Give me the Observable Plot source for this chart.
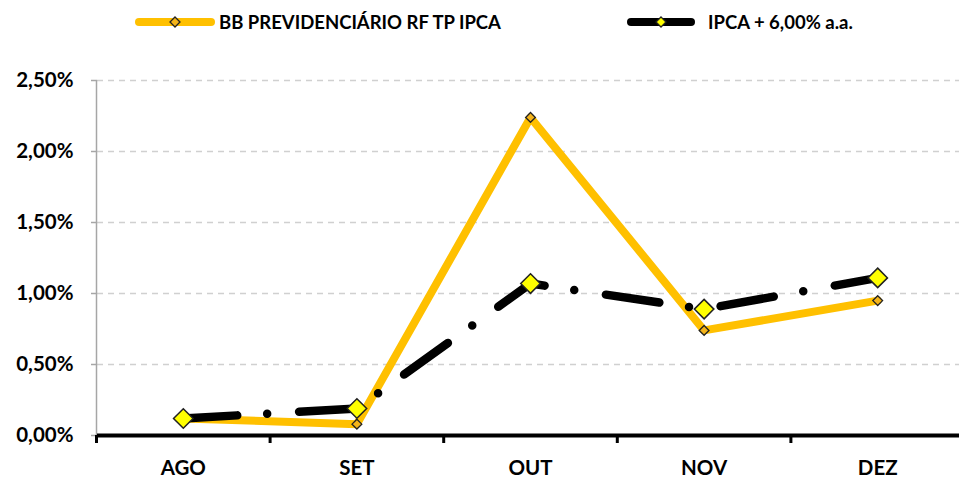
<!DOCTYPE html>
<html><head><meta charset="utf-8">
<script src="https://cdn.jsdelivr.net/npm/d3@7"></script>
<script src="https://cdn.jsdelivr.net/npm/@observablehq/plot@0.6"></script>
<style>
body{margin:0;background:#fff;font-family:Lato,"Open Sans",sans-serif;}
#legend{position:relative;height:40px;width:959px;}
.item{position:absolute;top:0;height:44px;display:flex;align-items:center;font-weight:bold;font-size:18.5px;color:#000;white-space:nowrap;}
</style></head><body>
<div id="legend"></div><div id="chart"></div>
<script>
const months = ["AGO","SET","OUT","NOV","DEZ"];
const bbValues = [0.12, 0.08, 2.24, 0.74, 0.95];
const ipcaValues = [0.12, 0.19, 1.07, 0.89, 1.11];
const seriesNames = ["BB PREVIDENCIÁRIO RF TP IPCA", "IPCA + 6,00% a.a."];
const yTicks = [0, 0.5, 1, 1.5, 2, 2.5];

const bb = months.map((m, i) => ({i, m, v: bbValues[i]}));
const ipca = months.map((m, i) => ({i, m, v: ipcaValues[i]}));
const bounds = d3.range(months.length + 1).map(i => i - 0.5);
const fmt = d => d.toFixed(2).replace(".", ",") + "%";

// legend
const legend = document.getElementById("legend");
const legendItems = [
  {name: seriesNames[0], left: 134, len: 82, gap: 3, color: "#FFC000", mfill: "#F4B41A"},
  {name: seriesNames[1], left: 626, len: 70, gap: 12, color: "#000", mfill: "#FFFF00"}
];
legendItems.forEach(it => {
  const d = document.createElement("div");
  d.className = "item";
  d.style.left = it.left + "px";
  const w = it.len;
  d.innerHTML = `<svg width="${w}" height="20" style="margin-right:${it.gap}px"><line x1="5" x2="${w-5}" y1="10" y2="10" stroke="${it.color}" stroke-width="8" stroke-linecap="round"/><path d="M${w/2} 5 L${w/2+5} 10 L${w/2} 15 L${w/2-5} 10 Z" fill="${it.mfill}" stroke="#222" stroke-width="1.3"/></svg><span>${it.name}</span>`;
  legend.appendChild(d);
});

const chart = Plot.plot({
  width: 959, height: 440,
  marginTop: 40, marginBottom: 45, marginLeft: 97, marginRight: 0,
  x: {type: "linear", domain: [-0.5, 4.5], range: [96, 964]},
  y: {domain: [0, 2.5]},
  style: {fontFamily: "Lato, 'Open Sans', sans-serif", fontWeight: "bold", fontSize: "20.5px", color: "#000", background: "#fff"},
  marks: [
    Plot.gridY(yTicks.filter(d => d > 0), {stroke: "#d0d0d0", strokeOpacity: 1, strokeDasharray: "6 5", strokeWidth: 1.3}),
    Plot.axisY({ticks: yTicks, tickFormat: fmt, tickSize: 6, tickPadding: 18, stroke: "#a6a6a6", strokeWidth: 1.5, label: null}),
    Plot.ruleX([-0.5], {stroke: "#a6a6a6", strokeWidth: 1.5}),
    Plot.ruleY([0], {stroke: "#000", strokeWidth: 4}),
    Plot.axisX({ticks: bounds, tickSize: 8, tickFormat: () => "", strokeWidth: 3, label: null}),
    Plot.axisX({ticks: d3.range(months.length), tickSize: 0, tickPadding: 25, tickFormat: i => months[i], label: null}),
    Plot.line(bb, {x: "i", y: "v", stroke: "#FFC000", strokeWidth: 8}),
    Plot.line(ipca, {x: "i", y: "v", stroke: "#000", strokeWidth: 8.5, strokeDasharray: "54 30 0 32", strokeLinecap: "round", strokeLinejoin: "round"}),
    Plot.dot(bb, {x: "i", y: "v", symbol: "diamond2", r: 4.4, fill: "#F4B41A", stroke: "#222", strokeWidth: 1.3}),
    Plot.dot(ipca, {x: "i", y: "v", symbol: "diamond2", r: 8.8, fill: "#FFFF00", stroke: "#222", strokeWidth: 1.5})
  ]
});
document.getElementById("chart").appendChild(chart);
</script>
</body></html>
